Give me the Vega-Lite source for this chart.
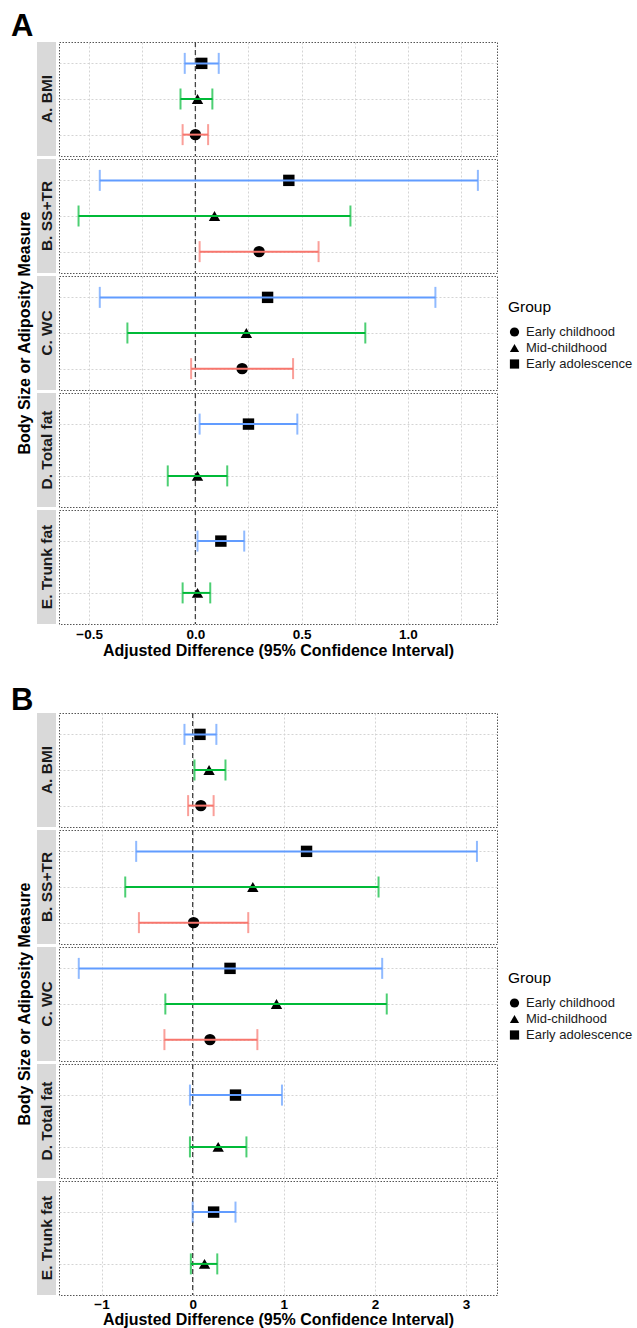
{
  "$schema": "https://vega.github.io/schema/vega-lite/v6.json",
  "background": "white",
  "padding": {"left": 10, "top": 10, "right": 0, "bottom": 0},
  "config": {
    "font": "Liberation Sans",
    "view": {"stroke": "#555555", "strokeDash": [1.5, 1.5], "strokeWidth": 1},
    "axis": {"gridColor": "#d4d4d4", "gridDash": [2, 2], "gridWidth": 1}
  },
  "datasets": {
    "strips": [
      {"measure": "A. BMI"}, {"measure": "B. SS+TR"}, {"measure": "C. WC"}, {"measure": "D. Total fat"}, {"measure": "E. Trunk fat"}
    ],
    "panelA": [
      {"measure": "A. BMI", "group": "Early adolescence", "est": 0.03, "lo": -0.05, "hi": 0.11},
      {"measure": "A. BMI", "group": "Mid-childhood", "est": 0.01, "lo": -0.07, "hi": 0.08},
      {"measure": "A. BMI", "group": "Early childhood", "est": 0.0, "lo": -0.06, "hi": 0.06},
      {"measure": "B. SS+TR", "group": "Early adolescence", "est": 0.44, "lo": -0.45, "hi": 1.33},
      {"measure": "B. SS+TR", "group": "Mid-childhood", "est": 0.09, "lo": -0.55, "hi": 0.73},
      {"measure": "B. SS+TR", "group": "Early childhood", "est": 0.30, "lo": 0.02, "hi": 0.58},
      {"measure": "C. WC", "group": "Early adolescence", "est": 0.34, "lo": -0.45, "hi": 1.13},
      {"measure": "C. WC", "group": "Mid-childhood", "est": 0.24, "lo": -0.32, "hi": 0.80},
      {"measure": "C. WC", "group": "Early childhood", "est": 0.22, "lo": -0.02, "hi": 0.46},
      {"measure": "D. Total fat", "group": "Early adolescence", "est": 0.25, "lo": 0.02, "hi": 0.48},
      {"measure": "D. Total fat", "group": "Mid-childhood", "est": 0.01, "lo": -0.13, "hi": 0.15},
      {"measure": "E. Trunk fat", "group": "Early adolescence", "est": 0.12, "lo": 0.01, "hi": 0.23},
      {"measure": "E. Trunk fat", "group": "Mid-childhood", "est": 0.01, "lo": -0.06, "hi": 0.07}
    ],
    "panelB": [
      {"measure": "A. BMI", "group": "Early adolescence", "est": 0.08, "lo": -0.09, "hi": 0.26},
      {"measure": "A. BMI", "group": "Mid-childhood", "est": 0.18, "lo": 0.02, "hi": 0.36},
      {"measure": "A. BMI", "group": "Early childhood", "est": 0.09, "lo": -0.05, "hi": 0.23},
      {"measure": "B. SS+TR", "group": "Early adolescence", "est": 1.25, "lo": -0.62, "hi": 3.12},
      {"measure": "B. SS+TR", "group": "Mid-childhood", "est": 0.66, "lo": -0.74, "hi": 2.04},
      {"measure": "B. SS+TR", "group": "Early childhood", "est": 0.01, "lo": -0.59, "hi": 0.61},
      {"measure": "C. WC", "group": "Early adolescence", "est": 0.41, "lo": -1.25, "hi": 2.08},
      {"measure": "C. WC", "group": "Mid-childhood", "est": 0.92, "lo": -0.30, "hi": 2.13},
      {"measure": "C. WC", "group": "Early childhood", "est": 0.19, "lo": -0.31, "hi": 0.71},
      {"measure": "D. Total fat", "group": "Early adolescence", "est": 0.47, "lo": -0.03, "hi": 0.98},
      {"measure": "D. Total fat", "group": "Mid-childhood", "est": 0.28, "lo": -0.03, "hi": 0.59},
      {"measure": "E. Trunk fat", "group": "Early adolescence", "est": 0.23, "lo": 0.0, "hi": 0.47},
      {"measure": "E. Trunk fat", "group": "Mid-childhood", "est": 0.13, "lo": -0.02, "hi": 0.27}
    ]
  },
  "spacing": 25,
  "resolve": {"legend": {"color": "independent", "shape": "independent"}},
  "vconcat": [
    {
      "title": {"text": "A", "anchor": "start", "fontSize": 31, "fontWeight": "bold", "color": "black", "frame": "bounds", "offset": -2, "dx": -6},
      "spacing": 2,
      "hconcat": [
        {
          "data": {"name": "strips"},
          "facet": {"row": {"field": "measure", "type": "nominal", "title": "Body Size or Adiposity Measure",
            "header": {"labels": false, "labelPadding": 0, "titleFontSize": 16, "titleFontWeight": "bold", "titleColor": "black", "titlePadding": -6}}},
          "spacing": 3,
          "bounds": "flush",
          "spec": {
            "width": 19, "height": 114,
            "view": {"stroke": null},
            "layer": [
              {"mark": {"type": "rect", "color": "#d9d9d9"}, "encoding": {}},
              {"mark": {"type": "text", "angle": 270, "fontWeight": "bold", "fontSize": 15.5, "color": "#1a1a1a"}, "encoding": {"text": {"field": "measure", "type": "nominal"}}}
            ]
          }
        },
        {
          "data": {"name": "panelA"},
          "facet": {"row": {"field": "measure", "type": "nominal", "title": null, "header": {"labels": false, "labelPadding": 0}}},
          "spacing": 3,
          "bounds": "flush",
          "resolve": {"scale": {"y": "independent"}},
          "spec": {
            "width": 438, "height": 114,
            "layer": [
              {
                "transform": [{"filter": "datum.group === 'Mid-childhood'"}],
                "mark": {"type": "rule", "color": "#444444", "strokeDash": [5, 3], "strokeWidth": 1.3},
                "encoding": {"x": {"datum": 0, "type": "quantitative", "title": "Adjusted Difference (95% Confidence Interval)"}}
              },
              {
                "mark": {"type": "point", "filled": true, "color": "black", "opacity": 1, "size": 130},
                "encoding": {
                  "x": {"field": "est", "type": "quantitative", "title": "Adjusted Difference (95% Confidence Interval)",
                    "scale": {"domain": [-0.642, 1.42], "nice": false, "zero": false},
                    "axis": {"values": [-0.5, -0.25, 0, 0.25, 0.5, 0.75, 1, 1.25], "format": ".1f", "labelExpr": "datum.value % 0.5 === 0 ? datum.label : ''",
                      "ticks": false, "domain": false, "labelFontSize": 13.5, "labelFontWeight": "bold", "labelColor": "black", "labelPadding": 3,
                      "titleFontSize": 16, "titleFontWeight": "bold", "titleColor": "black", "titlePadding": 2, "grid": true}},
                  "y": {"field": "group", "type": "nominal", "sort": ["Early adolescence", "Mid-childhood", "Early childhood"], "scale": {"type": "point", "padding": 0.6},
                    "axis": {"labels": false, "ticks": false, "domain": false, "title": null, "grid": true}},
                  "shape": {"field": "group", "type": "nominal", "title": "Group",
                    "scale": {"domain": ["Early childhood", "Mid-childhood", "Early adolescence"], "range": ["circle", "triangle-up", "square"]},
                    "legend": {"orient": "none", "legendX": 471, "legendY": 258, "titleFontSize": 15.5, "titleFontWeight": "normal", "titleColor": "black", "titlePadding": 10, "labelFontSize": 13, "labelColor": "#1a1a1a", "labelOffset": 5, "symbolSize": 85, "rowPadding": 0,
                      "encode": {"symbols": {"fill": {"value": "black"}, "fillOpacity": {"value": 1}, "stroke": {"signal": "scale('color', datum.value)"}, "strokeOpacity": {"value": 1}, "strokeWidth": {"value": 2}}}}}
                }
              },
              {
                "mark": {"type": "rule", "strokeWidth": 2},
                "encoding": {
                  "x": {"field": "lo", "type": "quantitative", "title": "Adjusted Difference (95% Confidence Interval)"},
                  "x2": {"field": "hi"},
                  "y": {"field": "group", "type": "nominal", "sort": ["Early adolescence", "Mid-childhood", "Early childhood"]},
                  "color": {"field": "group", "type": "nominal", "title": "Group",
                    "scale": {"range": ["#619CFF", "#F8766D", "#00BA38"]},
                    "legend": null}
                }
              },
              {
                "mark": {"type": "tick", "orient": "vertical", "thickness": 2, "size": 21},
                "encoding": {
                  "x": {"field": "lo", "type": "quantitative", "title": "Adjusted Difference (95% Confidence Interval)"},
                  "y": {"field": "group", "type": "nominal", "sort": ["Early adolescence", "Mid-childhood", "Early childhood"]},
                  "color": {"field": "group", "type": "nominal", "title": "Group", "legend": null}
                }
              },
              {
                "mark": {"type": "tick", "orient": "vertical", "thickness": 2, "size": 21},
                "encoding": {
                  "x": {"field": "hi", "type": "quantitative", "title": "Adjusted Difference (95% Confidence Interval)"},
                  "y": {"field": "group", "type": "nominal", "sort": ["Early adolescence", "Mid-childhood", "Early childhood"]},
                  "color": {"field": "group", "type": "nominal", "title": "Group", "legend": null}
                }
              }
            ]
          }
        }
      ]
    },
    {
      "title": {"text": "B", "anchor": "start", "fontSize": 31, "fontWeight": "bold", "color": "black", "frame": "bounds", "offset": -5, "dx": -6},
      "spacing": 2,
      "hconcat": [
        {
          "data": {"name": "strips"},
          "facet": {"row": {"field": "measure", "type": "nominal", "title": "Body Size or Adiposity Measure",
            "header": {"labels": false, "labelPadding": 0, "titleFontSize": 16, "titleFontWeight": "bold", "titleColor": "black", "titlePadding": -6}}},
          "spacing": 3,
          "bounds": "flush",
          "spec": {
            "width": 19, "height": 114,
            "view": {"stroke": null},
            "layer": [
              {"mark": {"type": "rect", "color": "#d9d9d9"}, "encoding": {}},
              {"mark": {"type": "text", "angle": 270, "fontWeight": "bold", "fontSize": 15.5, "color": "#1a1a1a"}, "encoding": {"text": {"field": "measure", "type": "nominal"}}}
            ]
          }
        },
        {
          "data": {"name": "panelB"},
          "facet": {"row": {"field": "measure", "type": "nominal", "title": null, "header": {"labels": false, "labelPadding": 0}}},
          "spacing": 3,
          "bounds": "flush",
          "resolve": {"scale": {"y": "independent"}},
          "spec": {
            "width": 438, "height": 114,
            "layer": [
              {
                "transform": [{"filter": "datum.group === 'Mid-childhood'"}],
                "mark": {"type": "rule", "color": "#444444", "strokeDash": [5, 3], "strokeWidth": 1.3},
                "encoding": {"x": {"datum": 0, "type": "quantitative", "title": "Adjusted Difference (95% Confidence Interval)"}}
              },
              {
                "mark": {"type": "point", "filled": true, "color": "black", "opacity": 1, "size": 130},
                "encoding": {
                  "x": {"field": "est", "type": "quantitative", "title": "Adjusted Difference (95% Confidence Interval)",
                    "scale": {"domain": [-1.467, 3.34], "nice": false, "zero": false},
                    "axis": {"values": [-1, -0.5, 0, 0.5, 1, 1.5, 2, 2.5, 3], "format": "d", "labelExpr": "datum.value % 1 === 0 ? datum.label : ''",
                      "ticks": false, "domain": false, "labelFontSize": 13.5, "labelFontWeight": "bold", "labelColor": "black", "labelPadding": 2,
                      "titleFontSize": 16, "titleFontWeight": "bold", "titleColor": "black", "titlePadding": 1, "grid": true}},
                  "y": {"field": "group", "type": "nominal", "sort": ["Early adolescence", "Mid-childhood", "Early childhood"], "scale": {"type": "point", "padding": 0.6},
                    "axis": {"labels": false, "ticks": false, "domain": false, "title": null, "grid": true}},
                  "shape": {"field": "group", "type": "nominal", "title": "Group",
                    "scale": {"domain": ["Early childhood", "Mid-childhood", "Early adolescence"], "range": ["circle", "triangle-up", "square"]},
                    "legend": {"orient": "none", "legendX": 471, "legendY": 258, "titleFontSize": 15.5, "titleFontWeight": "normal", "titleColor": "black", "titlePadding": 10, "labelFontSize": 13, "labelColor": "#1a1a1a", "labelOffset": 5, "symbolSize": 85, "rowPadding": 0,
                      "encode": {"symbols": {"fill": {"value": "black"}, "fillOpacity": {"value": 1}, "stroke": {"signal": "scale('color', datum.value)"}, "strokeOpacity": {"value": 1}, "strokeWidth": {"value": 2}}}}}
                }
              },
              {
                "mark": {"type": "rule", "strokeWidth": 2},
                "encoding": {
                  "x": {"field": "lo", "type": "quantitative", "title": "Adjusted Difference (95% Confidence Interval)"},
                  "x2": {"field": "hi"},
                  "y": {"field": "group", "type": "nominal", "sort": ["Early adolescence", "Mid-childhood", "Early childhood"]},
                  "color": {"field": "group", "type": "nominal", "title": "Group",
                    "scale": {"range": ["#619CFF", "#F8766D", "#00BA38"]},
                    "legend": null}
                }
              },
              {
                "mark": {"type": "tick", "orient": "vertical", "thickness": 2, "size": 21},
                "encoding": {
                  "x": {"field": "lo", "type": "quantitative", "title": "Adjusted Difference (95% Confidence Interval)"},
                  "y": {"field": "group", "type": "nominal", "sort": ["Early adolescence", "Mid-childhood", "Early childhood"]},
                  "color": {"field": "group", "type": "nominal", "title": "Group", "legend": null}
                }
              },
              {
                "mark": {"type": "tick", "orient": "vertical", "thickness": 2, "size": 21},
                "encoding": {
                  "x": {"field": "hi", "type": "quantitative", "title": "Adjusted Difference (95% Confidence Interval)"},
                  "y": {"field": "group", "type": "nominal", "sort": ["Early adolescence", "Mid-childhood", "Early childhood"]},
                  "color": {"field": "group", "type": "nominal", "title": "Group", "legend": null}
                }
              }
            ]
          }
        }
      ]
    }
  ]
}
